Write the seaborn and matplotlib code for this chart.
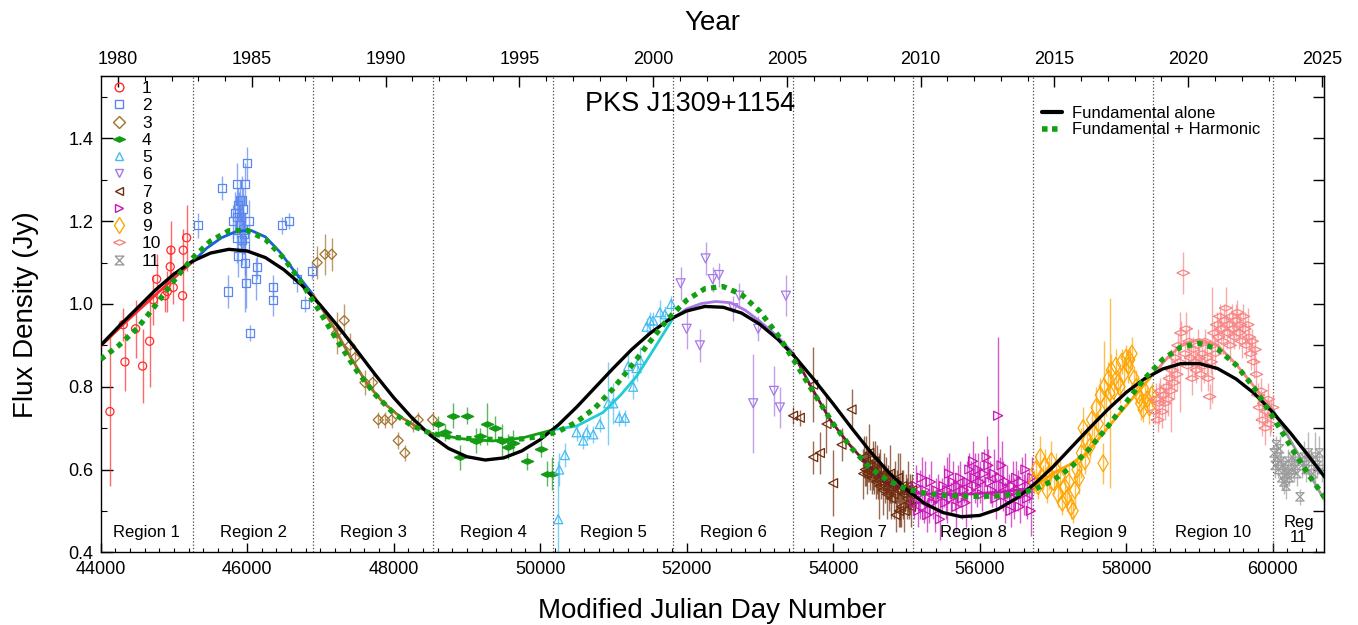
import numpy as np
import matplotlib
matplotlib.use("Agg")
import matplotlib.pyplot as plt
from matplotlib.lines import Line2D
from matplotlib.ticker import MultipleLocator, FixedLocator, FormatStrFormatter
import seaborn as sns

# ---------------- data ----------------
# region 1 (red circles)
r1_mjd = [44127, 44309, 44332, 44478, 44573, 44669, 44720, 44764, 44878, 44910,
          44950, 44991, 44960, 45119, 45128, 45174]
r1_flux = [0.74, 0.95, 0.86, 0.94, 0.85, 0.91, 1.01, 1.06, 1.02, 1.03,
           1.09, 1.04, 1.13, 1.02, 1.13, 1.16]
r1_err = [0.18, 0.04, 0.07, 0.07, 0.09, 0.11, 0.06, 0.06, 0.04, 0.05,
          0.05, 0.04, 0.07, 0.06, 0.05, 0.08]

# region 2 (blue squares)
r2_mjd = [45333, 45652, 45742, 45811, 45833, 45857, 45857, 45857, 45879, 45879,
          45890, 45900, 45902, 45915, 45925, 45925, 45940, 45947, 45956, 45970,
          45970, 45970, 45984, 46001, 46029, 46038, 46121, 46130, 46348, 46348,
          46479, 46571, 46676, 46789, 46880]
r2_flux = [1.19, 1.28, 1.03, 1.20, 1.22, 1.29, 1.21, 1.16, 1.24, 1.115,
           1.22, 1.25, 1.19, 1.21, 1.25, 1.155, 1.18, 1.23, 1.17, 1.29,
           1.14, 1.10, 1.05, 1.34, 1.20, 0.93, 1.06, 1.09, 1.04, 1.01,
           1.19, 1.20, 1.06, 1.00, 1.08]
r2_err = [0.03, 0.03, 0.04, 0.04, 0.05, 0.05, 0.05, 0.06, 0.04, 0.05,
          0.05, 0.05, 0.05, 0.05, 0.06, 0.06, 0.06, 0.05, 0.05, 0.05,
          0.07, 0.12, 0.06, 0.04, 0.05, 0.02, 0.05, 0.03, 0.03, 0.04,
          0.02, 0.02, 0.03, 0.02, 0.02]

# region 3 (brown diamonds)
r3_mjd = [46957, 47062, 47154, 47222, 47326, 47403, 47472, 47608, 47713, 47790,
          47881, 47973, 48063, 48154, 48268, 48336, 48532]
r3_flux = [1.10, 1.12, 1.12, 0.93, 0.96, 0.90, 0.87, 0.81, 0.81, 0.72,
           0.72, 0.72, 0.67, 0.64, 0.71, 0.72, 0.72]
r3_err = [0.04, 0.05, 0.04, 0.05, 0.04, 0.03, 0.03, 0.03, 0.02, 0.02,
          0.02, 0.02, 0.02, 0.02, 0.02, 0.02, 0.02]

# region 4 (green filled diamonds)
r4_mjd = [48609, 48700, 48814, 48905, 48996, 49120, 49178, 49270, 49383, 49474,
          49565, 49633, 49816, 50007, 50089, 50157]
r4_flux = [0.71, 0.69, 0.73, 0.63, 0.73, 0.67, 0.68, 0.71, 0.70, 0.67,
           0.655, 0.665, 0.62, 0.65, 0.59, 0.59]
r4_err = [0.02, 0.02, 0.03, 0.03, 0.02, 0.03, 0.02, 0.05, 0.03, 0.04,
          0.03, 0.03, 0.02, 0.02, 0.03, 0.04]

# region 5 (light blue triangles)
r5_mjd = [50247, 50261, 50339, 50498, 50589, 50635, 50726, 50817, 50930, 50999,
          51081, 51158, 51203, 51271, 51317, 51362, 51454, 51499, 51545, 51636,
          51704, 51790]
r5_flux = [0.48, 0.60, 0.635, 0.69, 0.67, 0.69, 0.685, 0.71, 0.76, 0.76,
           0.725, 0.725, 0.85, 0.80, 0.845, 0.865, 0.945, 0.96, 0.96, 0.98,
           0.975, 1.00]
r5_err = [0.14, 0.04, 0.03, 0.02, 0.02, 0.02, 0.02, 0.02, 0.10, 0.05,
          0.02, 0.02, 0.03, 0.03, 0.03, 0.03, 0.02, 0.02, 0.02, 0.03,
          0.02, 0.02]

# region 6 (purple triangles down)
r6_mjd = [51918, 52000, 52182, 52259, 52355, 52441, 52638, 52718, 52910, 52977,
          53192, 53274, 53356]
r6_flux = [1.05, 0.94, 0.90, 1.11, 1.06, 1.07, 0.99, 1.02, 0.76, 0.94,
           0.79, 0.75, 1.02]
r6_err = [0.04, 0.05, 0.04, 0.04, 0.03, 0.03, 0.03, 0.03, 0.12, 0.03,
          0.06, 0.05, 0.05]

# region 7 (dark brown triangles left)
r7_mjd = [53454, 53546, 53728, 53728, 53820, 53910, 54000, 54115, 54252, 54411,
          54420, 54435, 54450, 54465, 54480, 54495, 54510, 54525, 54540, 54555,
          54570, 54585, 54600, 54615, 54630, 54645, 54660, 54675, 54690, 54705,
          54720, 54735, 54750, 54765, 54780, 54795, 54810, 54825, 54840, 54855,
          54870, 54885, 54900, 54915, 54930, 54945, 54960, 54975, 54990, 55005,
          55020, 55035, 55050, 55065, 55080]
r7_flux = [0.73, 0.725, 0.805, 0.63, 0.64, 0.71, 0.567, 0.66, 0.745, 0.59,
           0.63, 0.60, 0.62, 0.59, 0.61, 0.64, 0.60, 0.58, 0.61, 0.59,
           0.62, 0.57, 0.60, 0.58, 0.56, 0.60, 0.57, 0.55, 0.59, 0.56,
           0.58, 0.54, 0.57, 0.55, 0.59, 0.53, 0.56, 0.54, 0.57, 0.49,
           0.55, 0.58, 0.50, 0.55, 0.51, 0.56, 0.54, 0.50, 0.55, 0.53,
           0.56, 0.52, 0.54, 0.51, 0.55]
r7_err = [0.02, 0.02, 0.09, 0.04, 0.05, 0.07, 0.08, 0.04, 0.05, 0.06,
          0.05, 0.04, 0.06, 0.05, 0.04, 0.07, 0.05, 0.04, 0.06, 0.05,
          0.05, 0.04, 0.06, 0.05, 0.08, 0.05, 0.04, 0.06, 0.05, 0.04,
          0.05, 0.06, 0.04, 0.05, 0.07, 0.05, 0.04, 0.06, 0.05, 0.04,
          0.05, 0.06, 0.04, 0.09, 0.05, 0.04, 0.06, 0.05, 0.04, 0.05,
          0.06, 0.04, 0.05, 0.05, 0.04]

# region 8 (magenta triangles right)
r8_mjd = [55110, 55135, 55160, 55185, 55210, 55235, 55260, 55285, 55310, 55335,
          55360, 55385, 55410, 55435, 55460, 55485, 55510, 55535, 55560, 55585,
          55610, 55635, 55660, 55685, 55710, 55735, 55760, 55785, 55810, 55835,
          55860, 55885, 55910, 55935, 55960, 55985, 56010, 56035, 56060, 56095,
          56120, 56145, 56170, 56195, 56220, 56254, 56280, 56300, 56325, 56350,
          56375, 56400, 56425, 56450, 56475, 56500, 56525, 56550, 56575, 56600,
          56625, 56650, 56675, 56700, 56720]
r8_flux = [0.52, 0.56, 0.50, 0.54, 0.58, 0.51, 0.55, 0.49, 0.53, 0.57,
           0.52, 0.50, 0.55, 0.53, 0.48, 0.54, 0.56, 0.52, 0.55, 0.59,
           0.53, 0.57, 0.54, 0.51, 0.56, 0.58, 0.53, 0.55, 0.52, 0.57,
           0.60, 0.55, 0.62, 0.58, 0.56, 0.60, 0.57, 0.54, 0.59, 0.63,
           0.61, 0.57, 0.55, 0.59, 0.53, 0.73, 0.58, 0.61, 0.56, 0.52,
           0.57, 0.54, 0.50, 0.56, 0.53, 0.58, 0.55, 0.51, 0.57, 0.54,
           0.60, 0.53, 0.56, 0.50, 0.58]
r8_err = [0.04, 0.05, 0.04, 0.06, 0.05, 0.04, 0.07, 0.04, 0.06, 0.05,
          0.04, 0.05, 0.03, 0.06, 0.05, 0.04, 0.05, 0.04, 0.08, 0.05,
          0.04, 0.05, 0.04, 0.06, 0.05, 0.04, 0.05, 0.03, 0.06, 0.05,
          0.04, 0.07, 0.05, 0.06, 0.05, 0.04, 0.05, 0.04, 0.06, 0.05,
          0.04, 0.05, 0.04, 0.06, 0.05, 0.19, 0.05, 0.06, 0.06, 0.05,
          0.04, 0.05, 0.04, 0.06, 0.05, 0.04, 0.05, 0.04, 0.06, 0.05,
          0.04, 0.05, 0.04, 0.06, 0.05]

# region 9 (orange thin diamonds)
r9_mjd = [56740, 56770, 56800, 56830, 56860, 56890, 56920, 56950, 56980, 57010,
          57040, 57070, 57100, 57130, 57160, 57190, 57220, 57250, 57277, 57300,
          57330, 57360, 57390, 57414, 57440, 57470, 57505, 57530, 57560, 57590,
          57620, 57650, 57687, 57700, 57730, 57760, 57778, 57800, 57830, 57860,
          57890, 57915, 57940, 57970, 58000, 58030, 58050, 58080, 58110, 58142,
          58170, 58200, 58233, 58260, 58290, 58320, 58350]
r9_flux = [0.57, 0.60, 0.56, 0.63, 0.58, 0.61, 0.55, 0.59, 0.62, 0.57,
           0.60, 0.54, 0.58, 0.52, 0.56, 0.53, 0.57, 0.51, 0.50, 0.55,
           0.60, 0.58, 0.64, 0.70, 0.62, 0.67, 0.655, 0.72, 0.69, 0.75,
           0.71, 0.78, 0.615, 0.80, 0.76, 0.82, 0.785, 0.84, 0.79, 0.85,
           0.81, 0.80, 0.86, 0.83, 0.87, 0.85, 0.865, 0.88, 0.82, 0.80,
           0.78, 0.76, 0.745, 0.79, 0.77, 0.75, 0.78]
r9_err = [0.03, 0.04, 0.03, 0.05, 0.03, 0.04, 0.03, 0.04, 0.05, 0.03,
          0.04, 0.03, 0.04, 0.03, 0.04, 0.03, 0.04, 0.03, 0.03, 0.04,
          0.03, 0.04, 0.06, 0.05, 0.03, 0.04, 0.03, 0.04, 0.03, 0.05,
          0.03, 0.04, 0.05, 0.11, 0.03, 0.04, 0.23, 0.04, 0.03, 0.04,
          0.03, 0.04, 0.03, 0.04, 0.03, 0.04, 0.03, 0.04, 0.03, 0.04,
          0.03, 0.04, 0.03, 0.04, 0.03, 0.04, 0.03]

# region 10 (salmon wide diamonds)
r10_mjd = [58390, 58410, 58430, 58450, 58470, 58490, 58510, 58530, 58550, 58570,
           58590, 58610, 58630, 58650, 58670, 58690, 58710, 58730, 58750, 58780,
           58800, 58820, 58840, 58860, 58880, 58900, 58920, 58940, 58960, 58980,
           59000, 59020, 59040, 59060, 59080, 59100, 59120, 59140, 59160, 59180,
           59200, 59220, 59240, 59260, 59280, 59300, 59320, 59340, 59360, 59380,
           59400, 59420, 59440, 59460, 59480, 59500, 59520, 59540, 59560, 59580,
           59600, 59620, 59640, 59660, 59680, 59700, 59720, 59740, 59760, 59780,
           59800, 59820, 59840, 59860, 59880, 59900, 59920, 59940, 59960, 59980,
           60000]
r10_flux = [0.74, 0.77, 0.72, 0.76, 0.79, 0.74, 0.78, 0.76, 0.80, 0.77,
            0.82, 0.79, 0.84, 0.81, 0.87, 0.83, 0.90, 0.86, 0.93, 1.075,
            0.88, 0.94, 0.85, 0.91, 0.87, 0.82, 0.89, 0.86, 0.84, 0.90,
            0.87, 0.83, 0.88, 0.85, 0.91, 0.87, 0.82, 0.776, 0.86, 0.90,
            0.93, 0.88, 0.95, 0.92, 0.97, 0.94, 0.91, 0.96, 0.99, 0.93,
            0.95, 0.90, 0.97, 0.94, 0.92, 0.96, 0.98, 0.93, 0.95, 0.91,
            0.97, 0.94, 0.90, 0.95, 0.92, 0.88, 0.91, 0.86, 0.89, 0.83,
            0.78, 0.75, 0.79, 0.72, 0.76, 0.70, 0.74, 0.77, 0.71, 0.73,
            0.75]
r10_err = [0.03, 0.04, 0.03, 0.05, 0.03, 0.04, 0.03, 0.04, 0.03, 0.04,
           0.03, 0.10, 0.03, 0.04, 0.03, 0.04, 0.03, 0.12, 0.03, 0.05,
           0.03, 0.04, 0.03, 0.04, 0.03, 0.04, 0.03, 0.04, 0.03, 0.04,
           0.03, 0.04, 0.03, 0.04, 0.03, 0.04, 0.03, 0.03, 0.03, 0.14,
           0.03, 0.04, 0.03, 0.04, 0.03, 0.04, 0.03, 0.04, 0.05, 0.04,
           0.03, 0.04, 0.03, 0.04, 0.03, 0.04, 0.03, 0.04, 0.03, 0.04,
           0.03, 0.04, 0.03, 0.04, 0.03, 0.04, 0.03, 0.04, 0.03, 0.04,
           0.03, 0.04, 0.03, 0.04, 0.03, 0.04, 0.03, 0.04, 0.03, 0.04,
           0.03]

# region 11 (grey hourglasses)
r11_mjd = [60020, 60035, 60050, 60065, 60080, 60095, 60110, 60125, 60140, 60155,
           60170, 60185, 60200, 60215, 60230, 60250, 60270, 60290, 60310, 60330,
           60374, 60400, 60430, 60460, 60490, 60520, 60550, 60580, 60610, 60640,
           60670]
r11_flux = [0.64, 0.61, 0.66, 0.63, 0.60, 0.65, 0.62, 0.58, 0.61, 0.57,
            0.60, 0.56, 0.59, 0.62, 0.58, 0.60, 0.63, 0.60, 0.62, 0.59,
            0.534, 0.61, 0.63, 0.60, 0.64, 0.62, 0.59, 0.63, 0.61, 0.64,
            0.60]
r11_err = [0.02, 0.03, 0.02, 0.03, 0.02, 0.03, 0.02, 0.03, 0.02, 0.03,
           0.02, 0.03, 0.02, 0.03, 0.02, 0.03, 0.02, 0.03, 0.02, 0.03,
           0.02, 0.03, 0.04, 0.03, 0.05, 0.03, 0.02, 0.06, 0.03, 0.04,
           0.03]

# per-region local fits
fit1_mjd = [44000, 44316, 44632, 44948, 45264]
fit1_flux = [0.898, 0.952, 1.003, 1.054, 1.103]
fit2_mjd = [45264, 45450, 45650, 45850, 46050, 46250, 46450, 46650, 46902]
fit2_flux = [1.103, 1.135, 1.160, 1.175, 1.178, 1.162, 1.125, 1.078, 1.022]
fit3_mjd = [46902, 47176, 47400, 47631, 47850, 48086, 48300, 48541]
fit3_flux = [1.022, 0.946, 0.875, 0.809, 0.763, 0.728, 0.705, 0.686]
fit4_mjd = [48541, 48950, 49350, 49750, 50179]
fit4_flux = [0.686, 0.674, 0.669, 0.676, 0.696]
fit5_mjd = [50179, 50500, 50860, 51100, 51320, 51550, 51816]
fit5_flux = [0.696, 0.705, 0.738, 0.780, 0.826, 0.890, 0.966]
fit6_mjd = [51816, 52000, 52200, 52400, 52600, 52800, 53000, 53250, 53454]
fit6_flux = [0.966, 0.988, 1.001, 1.006, 1.003, 0.985, 0.958, 0.920, 0.881]
fit7_mjd = [53454, 53700, 53960, 54200, 54411, 54730, 55092]
fit7_flux = [0.881, 0.800, 0.720, 0.665, 0.623, 0.567, 0.543]
fit8_mjd = [55092, 55500, 55900, 56300, 56730]
fit8_flux = [0.543, 0.540, 0.541, 0.546, 0.555]
fit9_mjd = [56730, 57005, 57230, 57460, 57690, 57915, 58140, 58370]
fit9_flux = [0.557, 0.591, 0.612, 0.639, 0.688, 0.736, 0.783, 0.830]
fit10_mjd = [58370, 58600, 58800, 59000, 59250, 59500, 59750, 60006]
fit10_flux = [0.830, 0.877, 0.905, 0.914, 0.900, 0.855, 0.800, 0.744]
fit11_mjd = [60006, 60355, 60705]
fit11_flux = [0.744, 0.636, 0.527]

# global models, read every 250 days
model_mjd = np.arange(44000, 60751, 250)
fundamental = [0.900, 0.946, 0.990, 1.034, 1.072, 1.103, 1.123, 1.132, 1.128, 1.112,
               1.083, 1.045, 0.997, 0.944, 0.887, 0.829, 0.774, 0.725, 0.683, 0.651,
               0.631, 0.623, 0.628, 0.645, 0.672, 0.708, 0.751, 0.798, 0.845, 0.890,
               0.929, 0.961, 0.983, 0.994, 0.992, 0.978, 0.951, 0.914, 0.868, 0.815,
               0.759, 0.701, 0.645, 0.595, 0.552, 0.518, 0.496, 0.486, 0.489, 0.504,
               0.530, 0.565, 0.606, 0.653, 0.700, 0.745, 0.786, 0.819, 0.843, 0.856,
               0.856, 0.844, 0.819, 0.784, 0.739, 0.687, 0.631, 0.573]
fund_harm = [0.866, 0.900, 0.941, 0.997, 1.056, 1.110, 1.152, 1.177, 1.178, 1.156,
             1.111, 1.050, 0.979, 0.906, 0.838, 0.781, 0.736, 0.706, 0.688, 0.679,
             0.675, 0.673, 0.673, 0.674, 0.680, 0.692, 0.715, 0.749, 0.796, 0.851,
             0.909, 0.965, 1.009, 1.037, 1.042, 1.023, 0.982, 0.924, 0.854, 0.781,
             0.711, 0.652, 0.605, 0.573, 0.553, 0.543, 0.538, 0.536, 0.535, 0.536,
             0.541, 0.552, 0.573, 0.606, 0.650, 0.704, 0.762, 0.819, 0.866, 0.896,
             0.905, 0.891, 0.853, 0.797, 0.728, 0.655, 0.585, 0.523]

region_edges = [44000, 45264, 46902, 48540, 50178, 51816, 53454, 55092, 56730,
                58368, 60006, 60705]
region_names = ["Region 1", "Region 2", "Region 3", "Region 4", "Region 5", "Region 6",
                "Region 7", "Region 8", "Region 9", "Region 10", "Reg\n11"]
year_ticks = [1980, 1985, 1990, 1995, 2000, 2005, 2010, 2015, 2020, 2025]

# ---------------- style ----------------
sns.set_style("ticks", rc={"axes.edgecolor": "black", "xtick.color": "black",
                           "ytick.color": "black", "text.color": "black",
                           "axes.labelcolor": "black"})
plt.rcParams["font.family"] = ["Liberation Sans", "DejaVu Sans"]

wide_diamond = [(-1, 0), (0, 0.45), (1, 0), (0, -0.45), (-1, 0)]
hourglass = [(-1, 1), (1, 1), (-1, -1), (1, -1), (-1, 1)]

regions = [
    (r1_mjd, r1_flux, r1_err, fit1_mjd, fit1_flux, "#ff2a2a", "#ff2a2a", "o", 34, False),
    (r2_mjd, r2_flux, r2_err, fit2_mjd, fit2_flux, "#5a86ee", "#1a5ce6", "s", 34, False),
    (r3_mjd, r3_flux, r3_err, fit3_mjd, fit3_flux, "#a2702a", "#a2702a", "D", 26, False),
    (r4_mjd, r4_flux, r4_err, fit4_mjd, fit4_flux, "#159a15", "#159a15", wide_diamond, 80, True),
    (r5_mjd, r5_flux, r5_err, fit5_mjd, fit5_flux, "#45bbf2", "#22ccd2", "^", 42, False),
    (r6_mjd, r6_flux, r6_err, fit6_mjd, fit6_flux, "#a678e6", "#a678e6", "v", 42, False),
    (r7_mjd, r7_flux, r7_err, fit7_mjd, fit7_flux, "#6e2c0c", "#7a1538", "<", 42, False),
    (r8_mjd, r8_flux, r8_err, fit8_mjd, fit8_flux, "#c815b4", "#c815b4", ">", 42, False),
    (r9_mjd, r9_flux, r9_err, fit9_mjd, fit9_flux, "#ffa500", "#ffa500", "d", 75, False),
    (r10_mjd, r10_flux, r10_err, fit10_mjd, fit10_flux, "#f78585", "#f78585", wide_diamond, 85, False),
    (r11_mjd, r11_flux, r11_err, fit11_mjd, fit11_flux, "#9c9c9c", "#9c9c9c", hourglass, 36, False),
]

fig = plt.figure(figsize=(13.58, 6.25), dpi=100)
ax = fig.add_axes([0.0741, 0.1163, 0.9010, 0.7616])

for mj, fl, er, fmj, ffl, col, fcol, mk, sz, filled in regions:
    ax.errorbar(mj, fl, yerr=er, fmt="none", ecolor=col, elinewidth=1.0, alpha=0.7, zorder=2)
    sns.scatterplot(x=mj, y=fl, ax=ax, marker=mk, s=sz, color=col,
                    facecolor=col if filled else "none", edgecolor=col,
                    linewidth=0.9, zorder=3, legend=False)
    sns.lineplot(x=fmj, y=ffl, ax=ax, color=fcol, linewidth=2.0,
                 estimator=None, sort=False, zorder=4)

sns.lineplot(x=model_mjd, y=fundamental, ax=ax, color="black", linewidth=2.4,
             estimator=None, zorder=5)
sns.lineplot(x=model_mjd, y=fund_harm, ax=ax, color="#12a012", linewidth=3.8,
             linestyle=(0, (1.0, 1.0)), estimator=None, zorder=6)

for edge in region_edges[1:-1]:
    ax.axvline(edge, color="#4a4a4a", linestyle=":", linewidth=0.9, zorder=1)

for i, name in enumerate(region_names):
    xc = 0.5 * (region_edges[i] + region_edges[i + 1])
    ax.text(xc, 0.453 if i == 10 else 0.447, name, ha="center", va="center",
            fontsize=12, linespacing=1.0)

ax.text(52045, 1.484, "PKS J1309+1154", ha="center", va="center", fontsize=19.5)

ax.set_xlim(44000, 60705)
ax.set_ylim(0.4, 1.55)
ax.xaxis.set_major_locator(MultipleLocator(2000))
ax.xaxis.set_minor_locator(MultipleLocator(200))
ax.yaxis.set_major_locator(MultipleLocator(0.2))
ax.yaxis.set_minor_locator(MultipleLocator(0.1))
ax.yaxis.set_major_formatter(FormatStrFormatter("%.1f"))
ax.tick_params(which="major", axis="x", direction="in", length=6.5, width=1, labelsize=13, pad=6.5)
ax.tick_params(which="minor", axis="x", direction="in", length=3, width=0.8)
ax.tick_params(which="major", axis="y", direction="in", length=8.5, width=1, labelsize=13, pad=5)
ax.tick_params(which="minor", axis="y", direction="in", length=4.3, width=0.8)
ax.tick_params(top=False, right=False, which="both")
for sp in ax.spines.values():
    sp.set_linewidth(1.0)
    sp.set_color("black")

ax.set_xlabel("Modified Julian Day Number", fontsize=20, labelpad=14)
ax.set_ylabel("Flux Density (Jy)", fontsize=20, labelpad=21)


def mjd_to_year(m):
    return 1980.0 + (np.asarray(m, dtype=float) - 44239.0) / 365.25


def year_to_mjd(y):
    return 44239.0 + (np.asarray(y, dtype=float) - 1980.0) * 365.25


top = ax.secondary_xaxis("top", functions=(mjd_to_year, year_to_mjd))
top.xaxis.set_major_locator(FixedLocator(year_ticks))
top.xaxis.set_minor_locator(FixedLocator(list(range(1980, 2026))))
top.tick_params(which="major", direction="in", length=7.7, width=1, labelsize=13, pad=6)
top.tick_params(which="minor", direction="in", length=3.6, width=0.8)
top.set_xlabel("Year", fontsize=20, labelpad=15)

right = ax.secondary_yaxis("right")
right.yaxis.set_major_locator(MultipleLocator(0.1))
right.tick_params(which="major", direction="in", length=8, width=1, labelright=False)

# legends
marker_handles = []
for mj, fl, er, fmj, ffl, col, fcol, mk, sz, filled in regions:
    marker_handles.append(Line2D([], [], linestyle="none", marker=mk,
                                 markersize=8.5 if mk is wide_diamond else (8.0 if mk == "d" else 6.3),
                                 markerfacecolor=col if filled else "none",
                                 markeredgecolor=col, markeredgewidth=1.0))
leg1 = ax.legend(marker_handles, [str(i) for i in range(1, 12)], loc="upper left",
                 bbox_to_anchor=(0.0082, 0.990), frameon=False, fontsize=12.5,
                 handlelength=1.0, handletextpad=0.8, labelspacing=0.12,
                 borderpad=0, borderaxespad=0)
ax.add_artist(leg1)

fit_handles = [Line2D([], [], color="black", linewidth=3.0),
               Line2D([], [], color="#12a012", linewidth=4.0, linestyle=(0, (1.0, 0.8)))]
ax.legend(fit_handles, ["Fundamental alone", "Fundamental + Harmonic"], loc="upper left",
          bbox_to_anchor=(0.7693, 0.937), frameon=False, fontsize=12,
          handlelength=1.2, handletextpad=0.58, labelspacing=0.07,
          borderpad=0, borderaxespad=0)

fig.savefig("out.png", dpi=100)
